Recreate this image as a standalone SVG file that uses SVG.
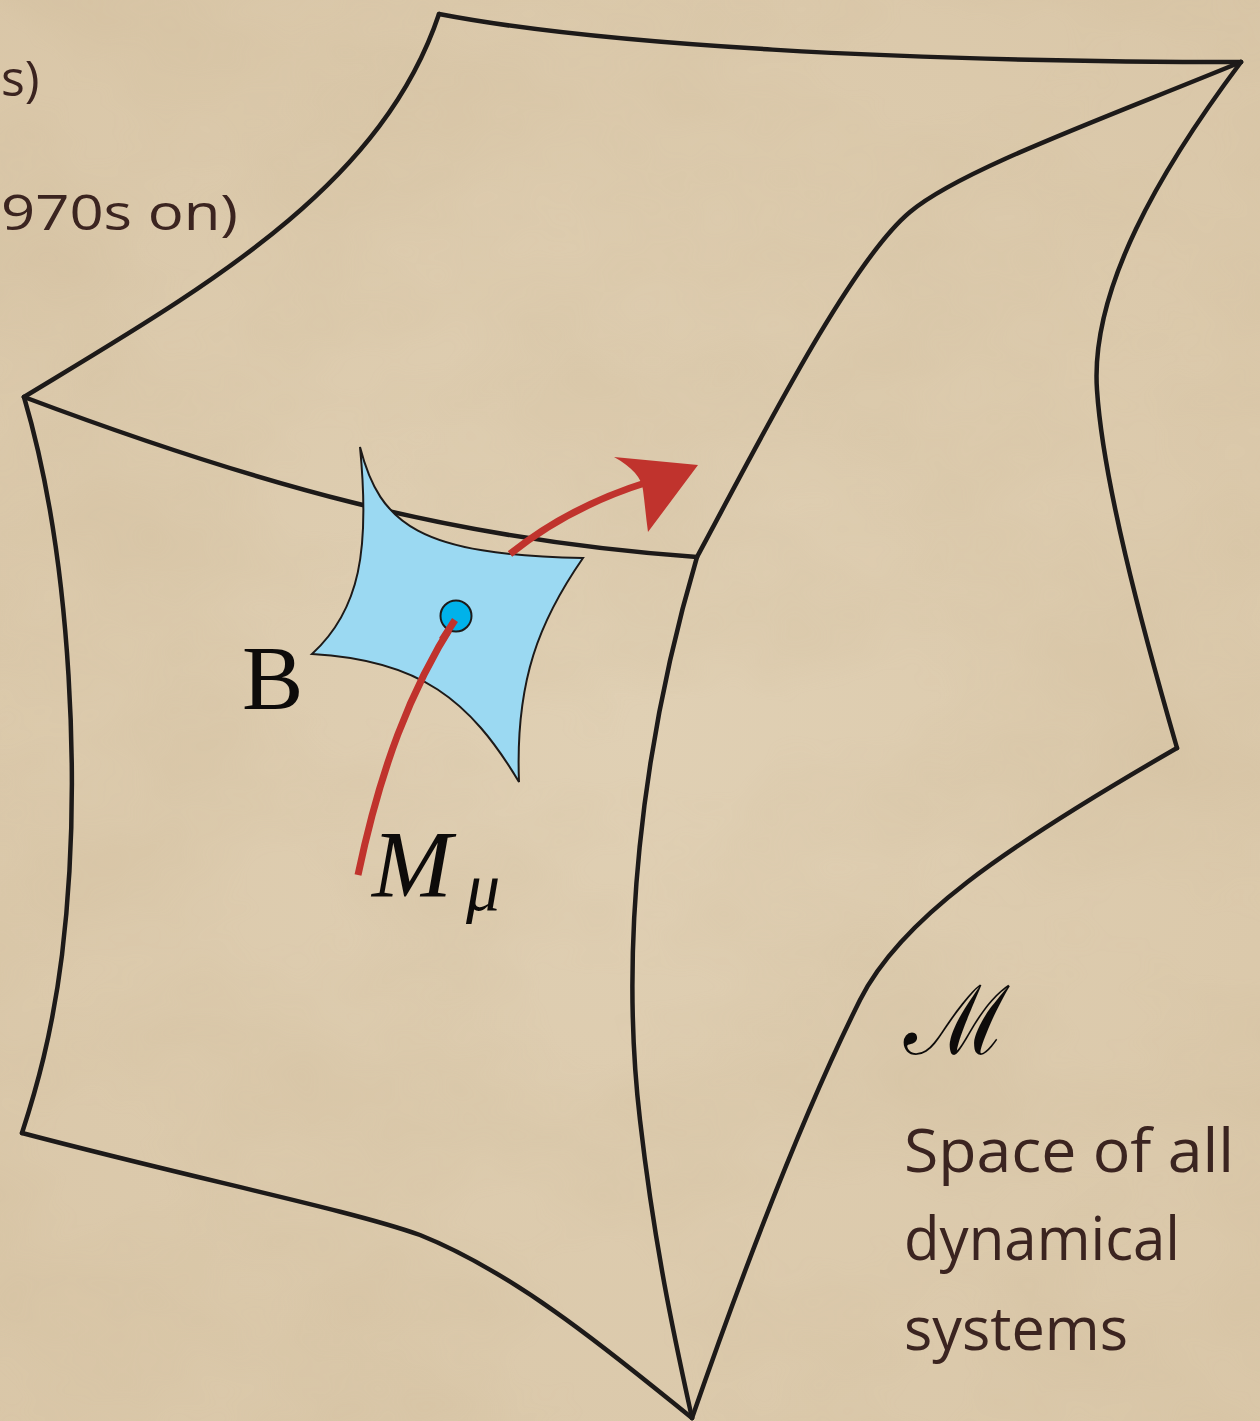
<svg xmlns="http://www.w3.org/2000/svg" width="1260" height="1421" viewBox="0 0 1260 1421">
<defs>
<style>
.edge{fill:none;stroke:#1d1a19;stroke-width:4.5;stroke-linejoin:miter;stroke-linecap:round}
.red{fill:none;stroke:#c0332d;stroke-width:7;stroke-linecap:butt}
.brown{font-family:"Open Sans","Lato",sans-serif;fill:#3b2420}
.math{font-family:"Liberation Serif","DejaVu Serif",serif;fill:#0d0b0a}
</style>
<filter id="paper" x="0" y="0" width="100%" height="100%">
<feTurbulence type="fractalNoise" baseFrequency="0.004 0.006" numOctaves="4" seed="7" result="n"/>
<feColorMatrix in="n" type="matrix" values="0 0 0 0 0.55  0 0 0 0 0.42  0 0 0 0 0.25  0 0 0 0.9 -0.3"/>
</filter>
<radialGradient id="bg" cx="0.5" cy="0.5" r="0.75">
<stop offset="0" stop-color="#e0d0b4"/>
<stop offset="1" stop-color="#d9c6a7"/>
</radialGradient>
</defs>
<g id="background">
<rect width="1260" height="1421" fill="url(#bg)"/>
<rect width="1260" height="1421" filter="url(#paper)" opacity="0.35"/>
</g>
<g id="top-left-text" class="brown">
<text x="1" y="96" font-size="50">s)</text>
<text x="1" y="230" font-size="50" textLength="237" lengthAdjust="spacingAndGlyphs">970s on)</text>
</g>
<g id="space-M">
<path class="edge" d="M24,397 C200,290 380,190 439,14"/>
<path class="edge" d="M439,14 C600,45 900,62 1241,62"/>
<path class="edge" d="M24,397 C250,482 450,540 697,557"/>
<path class="edge" d="M697,557 C760,440 850,262 910,212 C960,170 1100,120 1241,62"/>
<path class="edge" d="M1241,62 C1160,170 1090,290 1097,390 C1103,480 1140,620 1177,748"/>
<path class="edge" d="M1177,748 C1000,850 900,920 860,1000 C800,1120 740,1280 692,1418"/>
<path class="edge" d="M697,557 C640,750 620,950 640,1120 C655,1250 675,1340 692,1418"/>
<path class="edge" d="M24,397 C72,560 82,790 62,955 C52,1035 36,1090 22,1133"/>
<path class="edge" d="M22,1133 C200,1180 350,1210 420,1235 C520,1275 620,1360 692,1418"/>
</g>
<g id="region-B">
<path d="M360,447 C380,525 420,555 583,558 C540,620 515,680 519,782 C470,700 420,660 312,654 C360,610 370,550 360,447 Z" fill="#9bd9f2" stroke="#1d1a19" stroke-width="2" stroke-linejoin="miter"/>
</g>
<g id="connectors">
<path class="red" d="M358,875 C380,770 410,690 455,620"/>
<path class="red" d="M510,554 C545,526 590,500 648,482"/>
<path d="M698,465 L614,457 C632,467 642,478 643,490 C645,505 646,518 648,532 Z" fill="#c0332d"/>
</g>
<g id="point-mu">
<circle cx="456" cy="616" r="15.5" fill="#00b2ea" stroke="#1d1a19" stroke-width="2"/>
<path class="red" d="M442,640 L455,620" stroke-width="7"/>
</g>
<g id="labels">
<text class="math" x="242" y="709" font-size="92">B</text>
<text class="math" x="372" y="897" font-size="96" font-style="italic">M</text>
<text class="math" x="466" y="910" font-size="68" font-style="italic">μ</text>
<text x="904" y="1054" font-size="96" font-family="DejaVu Serif,serif" fill="#0d0b0a" textLength="106" lengthAdjust="spacingAndGlyphs">ℳ</text>
</g>
<g id="caption" class="brown">
<text x="904" y="1172" font-size="60" textLength="330" lengthAdjust="spacingAndGlyphs">Space of all</text>
<text x="904" y="1260" font-size="60" textLength="276" lengthAdjust="spacingAndGlyphs">dynamical</text>
<text x="904" y="1350" font-size="60" textLength="224" lengthAdjust="spacingAndGlyphs">systems</text>
</g>
</svg>
